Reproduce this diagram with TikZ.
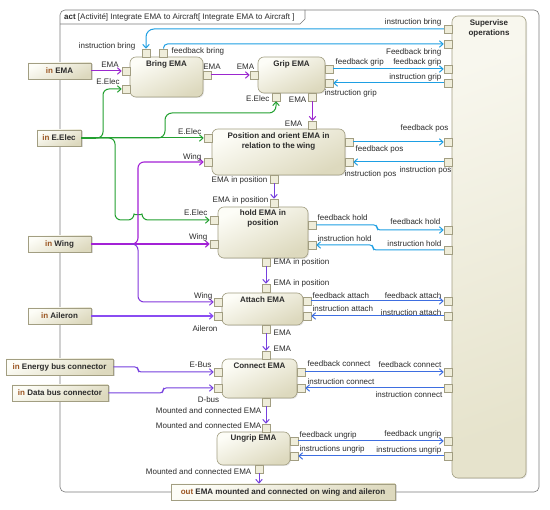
\documentclass[tikz,border=0pt]{standalone}
\usepackage{fontspec}
\setmainfont{Liberation Sans}
\usepackage{xcolor}
\usepackage{tikz}
\usetikzlibrary{arrows.meta,shadows}
\definecolor{ink}{HTML}{2B2B2B}
\definecolor{framec}{HTML}{7A7A7A}
\definecolor{boxline}{HTML}{A29E82}
\definecolor{boxhi}{HTML}{FDFDF7}
\definecolor{boxlo}{HTML}{DDD9BE}
\definecolor{suphi}{HTML}{F8F7EE}
\definecolor{suplo}{HTML}{E6E3CC}
\definecolor{pinfill}{HTML}{EFEDDA}
\definecolor{emaflow}{HTML}{9B27CF}
\definecolor{emalow}{HTML}{7640DE}
\definecolor{ailc}{HTML}{8A4CF2}
\definecolor{elecflow}{HTML}{22A030}
\definecolor{wingflow}{HTML}{A321D6}
\definecolor{ctlflow}{HTML}{1E9FE3}
\definecolor{ctllow}{HTML}{3E6EE0}
\definecolor{kw}{HTML}{9A5420}
\newcommand{\inkw}{\textcolor{kw}{in}}
\newcommand{\outkw}{\textcolor{kw}{out}}

\begin{document}
\begin{tikzpicture}[
  x=1pt, y=-1pt,
  font=\fontsize{8}{10}\selectfont,
  text=ink,
  action/.style={draw=boxline, line width=0.6pt, rounded corners=6pt,
                 top color=boxhi, bottom color=boxlo, shading angle=25,
                 drop shadow={shadow xshift=1pt, shadow yshift=-1pt,
                              fill=black!30, opacity=0.3}},
  supbox/.style={action, top color=suphi, bottom color=suplo, shading angle=20},
  param/.style={draw=boxline, line width=0.6pt, top color=boxhi,
                bottom color=boxlo, shading angle=25, minimum height=16pt,
                inner sep=2pt, font=\fontsize{8}{10}\selectfont\bfseries,
                drop shadow={shadow xshift=1.5pt, shadow yshift=-1.5pt,
                             fill=black!35, opacity=0.4}},
  pinb/.style={draw=boxline, fill=pinfill, line width=0.5pt,
               minimum size=8pt, inner sep=0pt},
  title/.style={font=\fontsize{8}{10}\selectfont\bfseries, align=center,
                inner sep=0pt},
  lab/.style={inner sep=0.5pt, text height=5.8pt, text depth=0pt},
  flow/.style={-{Straight Barb[length=3.6pt,width=6.5pt]}, line width=1pt},
  ema/.style={flow, draw=emaflow},
  emal/.style={flow, draw=emalow},
  elec/.style={flow, draw=elecflow},
  elecbus/.style={draw=elecflow, line width=2.2pt},
  wing/.style={flow, draw=wingflow, line width=1.1pt},
  wingl/.style={flow, draw=emalow!70!wingflow},
  wingbus/.style={draw=wingflow, line width=2.2pt},
  ailflow/.style={flow, draw=ailc, line width=1.1pt},
  busflow/.style={flow, draw=emalow},
  ctl/.style={flow, draw=ctlflow},
  ctll/.style={flow, draw=ctllow},
  framel/.style={draw=framec, line width=0.6pt},
]
\path[use as bounding box, fill=white] (0,0) rectangle (550,510);

% ---------------- frame of the activity ----------------
\draw[framel, rounded corners=5pt] (60,10) rectangle (539,492);
\draw[framel] (60,24) -- (300,24) -- (305,19) -- (305,10);
\node[anchor=west, inner sep=0pt] (actT) at (64,17)
  {\textbf{act} [Activité] Integrate EMA to Aircraft[ Integrate EMA to Aircraft ]};

% ---------------- actions ----------------
\node[supbox, minimum width=74pt, minimum height=462pt] (sup) at (489,247) {};
\node[action, minimum width=73pt, minimum height=40pt] (bring) at (166.5,77) {};
\node[action, minimum width=67pt, minimum height=36pt] (grip) at (291.5,75) {};
\node[action, minimum width=133pt, minimum height=46pt] (posit) at (278.5,152) {};
\node[action, minimum width=90pt, minimum height=51pt] (hold) at (263,232.5) {};
\node[action, minimum width=81pt, minimum height=32pt] (attach) at (262.5,309) {};
\node[action, minimum width=75pt, minimum height=39pt] (connect) at (259.5,378.5) {};
\node[action, minimum width=73pt, minimum height=33pt] (ungrip) at (253.5,448.5) {};

\node[title, anchor=north] (supT) at ([yshift=-4pt]sup.north) {Supervise\\operations};
\node[title, anchor=north] (bringT) at ([yshift=-4pt]bring.north) {Bring EMA};
\node[title, anchor=north] (gripT) at ([yshift=-4pt]grip.north) {Grip EMA};
\node[title, anchor=north] (positT) at ([yshift=-4pt]posit.north)
  {Position and orient EMA in\\relation to the wing};
\node[title, anchor=north] (holdT) at ([yshift=-3pt]hold.north) {hold EMA in\\position};
\node[title, anchor=north] (attachT) at ([yshift=-4pt]attach.north) {Attach EMA};
\node[title, anchor=north] (connectT) at ([yshift=-4pt]connect.north) {Connect EMA};
\node[title, anchor=north] (ungripT) at ([yshift=-3pt]ungrip.north) {Ungrip EMA};

% ---------------- parameters ----------------
\node[param, minimum width=63pt] (inEma) at (59.5,71) {\inkw{} EMA};
\node[param, minimum width=44pt] (inElec) at (59,138) {\inkw{} E.Elec};
\node[param, minimum width=63pt] (inWing) at (59.5,244) {\inkw{} Wing};
\node[param, minimum width=63pt] (inAil) at (59.5,316) {\inkw{} Aileron};
\node[param, minimum width=107pt] (inBus) at (59.5,367) {\inkw{} Energy bus connector};
\node[param, minimum width=96pt] (inDat) at (60,393) {\inkw{} Data bus connector};
\node[param, minimum width=224pt] (outN) at (283,492)
  {\outkw{} EMA mounted and connected on wing and aileron};

% ---------------- pins ----------------
\node[pinb] (bInstr) at (146,53) {};
\node[pinb] (bFeed) at (163.5,53) {};
\node[pinb] (bEma) at (126,71) {};
\node[pinb] (bElec) at (126,89) {};
\node[pinb] (bOut) at (207,75) {};

\node[pinb] (gEma) at (254,75) {};
\node[pinb] (gFeed) at (329,69) {};
\node[pinb] (gInstr) at (329,83) {};
\node[pinb] (gElec) at (276,97) {};
\node[pinb] (gOut) at (312.5,97) {};

\node[pinb] (pEma) at (312.5,125) {};
\node[pinb] (pElec) at (208,138) {};
\node[pinb] (pWing) at (208,162) {};
\node[pinb] (pFeed) at (349,142) {};
\node[pinb] (pInstr) at (349,162) {};
\node[pinb] (pOut) at (274,179) {};

\node[pinb] (hEma) at (274,203) {};
\node[pinb] (hElec) at (214,220) {};
\node[pinb] (hWing) at (214,244) {};
\node[pinb] (hFeed) at (312,225) {};
\node[pinb] (hInstr) at (312,245) {};
\node[pinb] (hOut) at (266,262) {};

\node[pinb] (aEma) at (266,288) {};
\node[pinb] (aWing) at (218,302) {};
\node[pinb] (aAil) at (218,316) {};
\node[pinb] (aFeed) at (307,301) {};
\node[pinb] (aInstr) at (307,316) {};
\node[pinb] (aOut) at (266,329) {};

\node[pinb] (cEma) at (266,355) {};
\node[pinb] (cBus) at (218,372) {};
\node[pinb] (cDat) at (218,388) {};
\node[pinb] (cFeed) at (301,372) {};
\node[pinb] (cInstr) at (301,388) {};
\node[pinb] (cOut) at (266,402) {};

\node[pinb] (uIn) at (266,428) {};
\node[pinb] (uFeed) at (294,441) {};
\node[pinb] (uInstr) at (294,456) {};
\node[pinb] (uOut) at (259,469) {};

\node[pinb] (sIb) at (448,29) {};
\node[pinb] (sFb) at (448,44) {};
\node[pinb] (sFg) at (448,69) {};
\node[pinb] (sIg) at (448,83) {};
\node[pinb] (sFp) at (448,142) {};
\node[pinb] (sIp) at (448,162) {};
\node[pinb] (sFh) at (448,230) {};
\node[pinb] (sIh) at (448,250) {};
\node[pinb] (sFa) at (448,301) {};
\node[pinb] (sIa) at (448,316) {};
\node[pinb] (sFc) at (448,372) {};
\node[pinb] (sIc) at (448,388) {};
\node[pinb] (sFu) at (448,441) {};
\node[pinb] (sIu) at (448,456) {};

% ---------------- object flow of the EMA ----------------
\draw[ema] (inEma.east) -- (bEma.west);
\draw[ema] (bOut.east) -- (gEma.west);
\draw[ema] (gOut.south) -- (pEma.north);
\draw[emal] (pOut.south) -- (hEma.north);
\draw[emal] (hOut.south) -- (aEma.north);
\draw[emal] (aOut.south) -- (cEma.north);
\draw[emal] (cOut.south) -- (uIn.north);
\draw[emal] (uOut.south) -- (uOut |- outN.north);

% ---------------- electrical supply ----------------
\coordinate (eSplit) at (96,138);
\draw[elecbus] (inElec.east) -- (eSplit);
\draw[elec] (eSplit) -- (pElec.west);
\draw[elec, rounded corners=6pt] (eSplit) -| (103,89) -- (bElec.west);
\draw[elec, rounded corners=7pt] (eSplit) -| (165,113) -| (gElec.south);
\draw[elec, rounded corners=6pt] (eSplit) -| (115,220) -- (134,220)
  .. controls (134,215) and (142,215) .. (142,220) -- (hElec.west);

% ---------------- wing, aileron and buses ----------------
\coordinate (wSplit) at (130,244);
\draw[wingbus] (inWing.east) -- (wSplit);
\draw[wing] (wSplit) -- (hWing.west);
\draw[wing, rounded corners=6pt] (wSplit) -| (138,162) -- (pWing.west);
\draw[wingl, rounded corners=6pt] (wSplit) -| (138,302) -- (aWing.west);
\draw[ailflow] (inAil.east) -- (aAil.west);
\draw[busflow, rounded corners=3pt] (inBus.east) -| (138,372) -- (cBus.west);
\draw[busflow, rounded corners=3pt] (inDat.east) -| (163,388) -- (cDat.west);

% ---------------- control flows with supervision ----------------
\draw[ctl, rounded corners=8pt] (sIb.west) -| (bInstr.north);
\draw[ctl, rounded corners=4pt] (bFeed.north) |- (sFb.west);
\draw[ctl] (gFeed.east) -- (sFg.west);
\draw[ctl] (sIg.west) -- (gInstr.east);
\draw[ctl] (pFeed.east) -- (sFp.west);
\draw[ctl] (sIp.west) -- (pInstr.east);
\draw[ctl, rounded corners=3pt] (hFeed.east) -| (377,230) -- (sFh.west);
\draw[ctl, rounded corners=3pt] (sIh.west) -| (373,245) -- (hInstr.east);
\draw[ctll] (aFeed.east) -- (sFa.west);
\draw[ctll] (sIa.west) -- (aInstr.east);
\draw[ctll] (cFeed.east) -- (sFc.west);
\draw[ctll] (sIc.west) -- (cInstr.east);
\draw[ctll] (uFeed.east) -- (sFu.west);
\draw[ctll] (sIu.west) -- (uInstr.east);

% ---------------- pin names ----------------
\node[lab, anchor=east] (tIbB) at (136,46) {instruction bring};
\node[lab, anchor=east] (tIbS) at (442,22) {instruction bring};
\node[lab, anchor=west] (tFbB) at (171,51) {feedback bring};
\node[lab, anchor=east] (tFbS) at (442,52) {Feedback bring};
\node[lab] (tEma1) at (110,64.5) {EMA};
\node[lab] (tElec1) at (108,81.5) {E.Elec};
\node[lab] (tEma2) at (212,66.5) {EMA};
\node[lab] (tEma3) at (245.5,66.5) {EMA};
\node[lab, anchor=west] (tFgG) at (335,62) {feedback grip};
\node[lab, anchor=east] (tFgS) at (442,62) {feedback grip};
\node[lab, anchor=east] (tIgS) at (442,76.5) {instruction grip};
\node[lab, anchor=west] (tIgG) at (324,92.5) {instruction grip};
\node[lab, anchor=east] (tElec2) at (270,99) {E.Elec};
\node[lab, anchor=east] (tEma4) at (307,99.5) {EMA};

\node[lab, anchor=east] (tEma5) at (303,123.5) {EMA};
\node[lab, anchor=east] (tElec3) at (202,132) {E.Elec};
\node[lab, anchor=east] (tWing1) at (202,157) {Wing};
\node[lab, anchor=east] (tFpS) at (449,128) {feedback pos};
\node[lab, anchor=west] (tFpP) at (355,149) {feedback pos};
\node[lab, anchor=east] (tIpS) at (452,169.5) {instruction pos};
\node[lab, anchor=west] (tIpP) at (344,174) {instruction pos};
\node[lab, anchor=east] (tPos1) at (268,180) {EMA in position};
\node[lab, anchor=east] (tPos2) at (269,200) {EMA in position};

\node[lab, anchor=east] (tElec4) at (208,213) {E.Elec};
\node[lab, anchor=east] (tWing2) at (208,237) {Wing};
\node[lab, anchor=west] (tFhH) at (317,217.5) {feedback hold};
\node[lab, anchor=west] (tIhH) at (317,238.5) {instruction hold};
\node[lab, anchor=east] (tFhS) at (441,221.5) {feedback hold};
\node[lab, anchor=east] (tIhS) at (442,243.5) {instruction hold};
\node[lab, anchor=west] (tPos3) at (273,261.5) {EMA in position};
\node[lab, anchor=west] (tPos4) at (273,282.5) {EMA in position};

\node[lab, anchor=east] (tWing3) at (213,295.5) {Wing};
\node[lab] (tAil) at (205,328.5) {Aileron};
\node[lab, anchor=west] (tFaA) at (312,296) {feedback attach};
\node[lab, anchor=west] (tIaA) at (312,309) {instruction attach};
\node[lab, anchor=east] (tFaS) at (442,295.5) {feedback attach};
\node[lab, anchor=east] (tIaS) at (442,312.5) {instruction attach};
\node[lab, anchor=west] (tEma6) at (273,333) {EMA};
\node[lab, anchor=west] (tEma7) at (273,348.5) {EMA};

\node[lab, anchor=east] (tBus) at (212,364.5) {E-Bus};
\node[lab] (tDat) at (208.5,400) {D-bus};
\node[lab, anchor=west] (tFcC) at (307,363.5) {feedback connect};
\node[lab, anchor=west] (tIcC) at (307,381.5) {instruction connect};
\node[lab, anchor=east] (tFcS) at (442,365) {feedback connect};
\node[lab, anchor=east] (tIcS) at (443,394.5) {instruction connect};
\node[lab, anchor=east] (tMc1) at (262,411) {Mounted and connected EMA};
\node[lab, anchor=east] (tMc2) at (262,426) {Mounted and connected EMA};

\node[lab, anchor=west] (tFuU) at (299,434.5) {feedback ungrip};
\node[lab, anchor=west] (tIuU) at (299,448.5) {instructions ungrip};
\node[lab, anchor=east] (tFuS) at (442,433.5) {feedback ungrip};
\node[lab, anchor=east] (tIuS) at (442,449.5) {instructions ungrip};
\node[lab, anchor=east] (tMc3) at (252,471.5) {Mounted and connected EMA};

\end{tikzpicture}
\end{document}
